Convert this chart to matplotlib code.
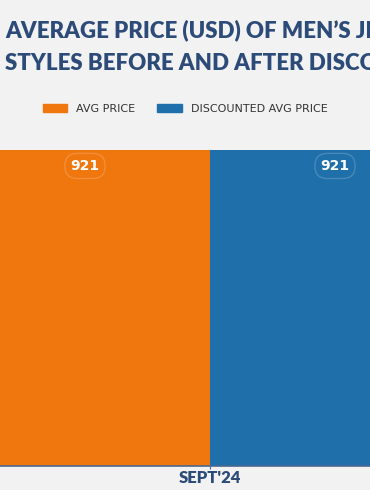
import matplotlib.pyplot as plt
from matplotlib.patches import Patch

# datos
categorias = ["SEPT'24"]
avg_price = [921]
discounted_avg_price = [921]
series = ['AVG PRICE', 'DISCOUNTED AVG PRICE']
colores = ['#F0760E', '#1F6FAA']

fondo = '#F2F2F2'
azul_titulo = '#2D4B78'

fig = plt.figure(figsize=(3.7, 4.9), dpi=100)
fig.patch.set_facecolor(fondo)

# el gráfico original está recortado: las barras salen por los lados
ax = fig.add_axes([0, 24 / 490, 1, 316 / 490])
ax.set_facecolor('none')

ancho = 0.4
x = range(len(categorias))
b1 = ax.bar([i - ancho / 2 for i in x], avg_price, ancho, color=colores[0], linewidth=0)
b2 = ax.bar([i + ancho / 2 for i in x], discounted_avg_price, ancho, color=colores[1], linewidth=0)

ax.set_xlim(-210 / 625, 160 / 625)
ax.set_ylim(0, max(avg_price + discounted_avg_price))

for barras in (b1, b2):
    for b in barras:
        ax.annotate(f'{b.get_height():.0f}', (b.get_x() + b.get_width() / 2, b.get_height()),
                    xytext=(0, -11.5), textcoords='offset points', ha='center', va='center',
                    color='white', fontsize=10, fontweight='bold', family='DejaVu Sans',
                    bbox=dict(boxstyle='round,pad=0.4,rounding_size=0.9', fc='none',
                              ec=(1, 1, 1, 0.18), lw=1))

for lado in ['top', 'right', 'left']:
    ax.spines[lado].set_visible(False)
ax.spines['bottom'].set_color('#4A6790')
ax.spines['bottom'].set_linewidth(1.2)
ax.set_yticks([])
ax.set_xticks(list(x))
ax.set_xticklabels(categorias, fontsize=12, fontweight='heavy', color=azul_titulo, family='Lato')
ax.tick_params(axis='x', length=2, width=0.8, color='#4A6790', pad=1)

fig.text(0.013, 1 - 30 / 490, "AVERAGE PRICE (USD) OF MEN\u2019S JEANS", fontsize=16,
         fontweight='heavy', color=azul_titulo, family='Lato', va='center', ha='left')
fig.text(0.013, 1 - 63 / 490, "STYLES BEFORE AND AFTER DISCOUNTS", fontsize=16,
         fontweight='heavy', color=azul_titulo, family='Lato', va='center', ha='left')

handles = [Patch(color=c) for c in colores]
fig.legend(handles, series, loc='center', bbox_to_anchor=(0.5, 1 - 109 / 490), ncol=2,
           frameon=False, handlelength=2.2, handleheight=0.7, columnspacing=2.0,
           handletextpad=0.8, labelcolor='#333333', prop={'family': 'DejaVu Sans', 'size': 8})

fig.savefig('out.png', dpi=100, facecolor=fondo)
